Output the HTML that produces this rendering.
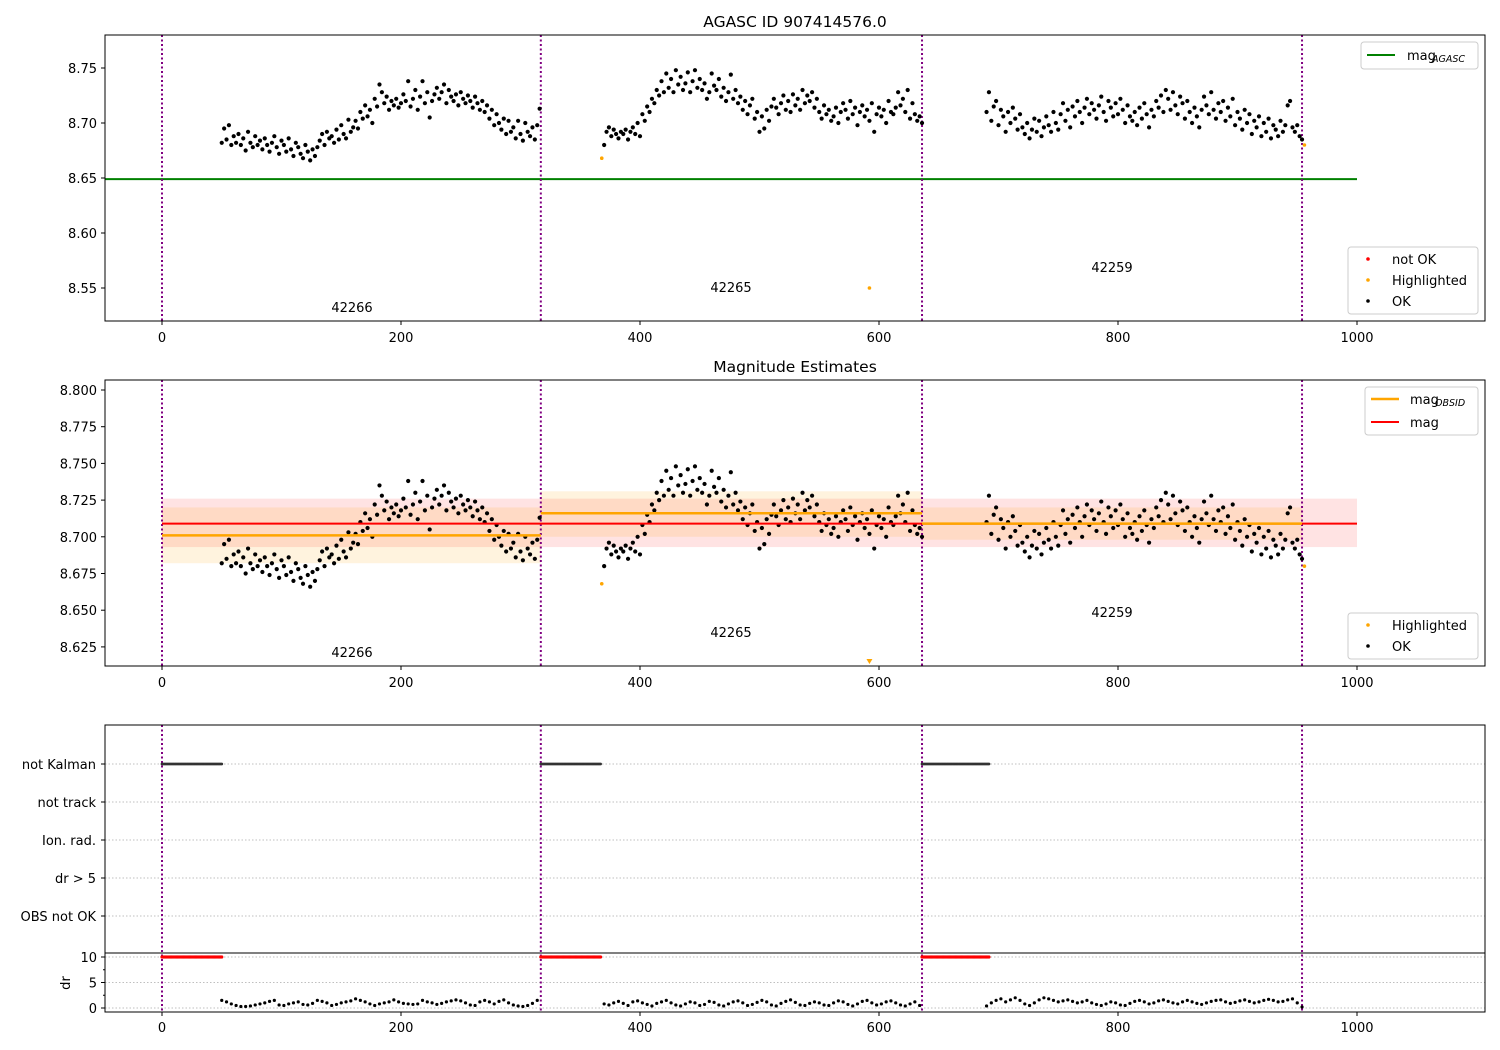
<!DOCTYPE html>
<html><head><meta charset="utf-8"><style>
html,body{margin:0;padding:0;background:#fff;}
svg{display:block;font-family:"DejaVu Sans","Liberation Sans",sans-serif;}
</style></head><body>
<svg id="chart" width="1500" height="1050" viewBox="0 0 1500 1050" xmlns="http://www.w3.org/2000/svg">
</svg>
<script>
// ---------- data ----------
const obsids = ["42266", "42265", "42259"];
const obsStarts = [0, 317, 636];
const obsEnds = [317, 636, 954];
const seg1Start = 50, seg2Start = 370, seg3Start = 690;
// magnitude offsets (thousandths of mag relative to 8.700), one per 2 index units
const seg1Mag = [-18,-5,-15,-2,-20,-12,
 -18,-10,-20,-14,-25,-8,-18,-22,-12,-20,-16,-24,-14,-20,-26,-18,-12,-22,-28,-16,
 -20,-26,-14,-24,-30,-18,-22,-28,-32,-20,-26,-34,-24,-30,-22,
 -16,-10,-20,-8,-14,-12,-18,-6,-15,-2,-10,-14,3,-8,-4,
 2,-5,10,4,16,6,12,0,22,15,
 35,28,18,24,12,20,16,22,14,18,
 26,20,38,15,22,30,12,24,38,18,28,5,20,26,32,
 22,28,35,18,30,24,20,26,16,28,22,18,25,20,14,
 24,18,12,20,10,16,4,12,-2,8,0,-6,4,-10,2,
 -8,-4,-14,2,-10,-16,0,-8,-12,-4,-15,-2,13];
const seg2Mag = [-20,-8,-4,-12,-6,-10,-14,-8,-10,-6,-15,-8,-4,-10,0,-12,
 8,2,15,10,22,18,30,25,38,28,
 45,32,40,28,48,35,42,30,36,46,28,38,48,32,40,
 30,36,22,28,45,34,30,40,24,32,20,28,44,22,30,
 18,24,12,20,8,16,22,4,10,-8,6,-5,12,2,15,
 22,14,8,18,25,12,20,10,26,16,22,12,30,18,25,
 20,28,14,22,10,4,16,8,12,2,6,14,0,10,18,
 12,4,20,8,14,-2,10,16,6,12,2,18,-8,8,14,
 6,12,0,20,10,8,14,28,16,22,10,30,4,18,8,2,6,0];
const seg3Mag = [10,28,2,15,20,-2,12,6,-8,10,0,14,4,-6,8,-4,
 -10,0,-14,-6,4,-8,2,-12,-4,6,-2,-8,10,0,-6,
 8,18,2,12,-4,15,6,20,10,0,14,22,8,18,12,
 4,16,24,10,2,20,14,6,18,8,22,12,0,16,6,
 2,10,-2,14,4,18,8,-4,12,6,20,14,25,10,30,
 22,12,28,16,8,24,18,4,20,10,0,14,6,-4,12,
 24,16,8,28,12,4,18,10,20,2,14,6,22,-2,10,
 4,-6,12,0,8,-10,2,-4,6,-12,0,-8,4,-14,-2,
 -6,-12,2,-8,-2,16,20,-4,-8,-2,-12,-15];
const highX = [368, 592, 956];
const highMag = [8.668, 8.550, 8.680];
const magAgasc = 8.649;
const magMean = 8.709, magBandLo = 8.693, magBandHi = 8.726;
const obsMag = [8.701, 8.716, 8.709];
const obsLo = [8.682, 8.700, 8.698];
const obsHi = [8.720, 8.731, 8.720];
// dr values, one per 4 index units
const seg1Dr = [1.5,1.2,0.8,0.5,0.3,0.3,0.4,0.6,0.8,1.0,1.3,1.5,0.6,0.5,0.8,1.0,1.2,0.7,0.6,0.9,1.5,1.3,1.0,0.5,0.7,1.0,1.2,1.4,1.8,1.5,1.2,0.8,0.5,0.8,1.0,1.2,1.6,1.2,0.9,0.8,0.7,0.8,1.5,1.2,1.0,0.7,0.9,1.2,1.4,1.6,1.4,1.0,0.6,0.5,1.2,1.5,1.2,0.8,1.3,1.6,1.0,0.6,0.4,0.3,0.5,0.9,1.5];
const seg2Dr = [0.8,0.6,1.0,1.3,0.9,0.5,1.2,1.4,1.0,0.7,0.4,0.9,1.2,1.5,1.0,0.6,0.4,0.8,1.2,1.0,0.5,0.7,1.3,1.1,0.6,0.4,0.8,1.2,1.4,1.0,0.5,0.7,1.1,1.5,1.2,0.6,0.4,0.9,1.3,1.6,1.1,0.6,0.5,0.9,1.2,1.0,0.6,0.5,1.0,1.4,1.2,0.7,0.4,0.8,1.3,1.5,1.0,0.6,0.8,1.2,1.4,1.0,0.6,0.4,0.8,1.2,0.5];
const seg3Dr = [0.4,1.0,1.5,1.8,1.2,1.6,2.0,1.5,0.8,0.5,1.0,1.6,2.0,1.8,1.5,1.2,1.4,1.6,1.3,1.0,1.2,1.5,1.0,0.7,0.5,0.8,1.2,1.0,0.6,0.5,0.9,1.3,1.5,1.2,0.8,1.0,1.4,1.6,1.3,1.0,0.8,1.2,1.5,1.2,0.9,0.7,1.0,1.3,1.5,1.6,1.2,0.9,1.1,1.4,1.6,1.3,1.0,1.2,1.5,1.7,1.5,1.2,1.3,1.6,1.8,1.0,0.2];
const flagLabels = ["not Kalman","not track","Ion. rad.","dr > 5","OBS not OK"];
const xTicks = [0,200,400,600,800,1000];
const topYTicks = [8.55,8.60,8.65,8.70,8.75];
const midYTicks = [8.625,8.650,8.675,8.700,8.725,8.750,8.775,8.800];
const drTicks = [0,5,10];

// ---------- scales ----------
const L = 105, R = 1485;
const X = v => 162 + v * 1.195;
const yTop = v => 68 + (8.75 - v) * 1100;
const yMid = v => 536.8 + (8.70 - v) * 1468;
const yDr = v => 1008 - v * 5.1;
const flagY = i => 764 + i * 38;

const svg = document.getElementById('chart');
const NS = 'http://www.w3.org/2000/svg';
function el(tag, attrs, parent) {
  const e = document.createElementNS(NS, tag);
  for (const k in attrs) e.setAttribute(k, attrs[k]);
  (parent || svg).appendChild(e);
  return e;
}
function txt(s, attrs, parent) { const t = el('text', attrs, parent); t.textContent = s; return t; }

function allPoints(segStarts, segs, step) {
  const out = [];
  segs.forEach((arr, s) => arr.forEach((v, i) => out.push([segStarts[s] + i * step, v])));
  return out;
}
const magPts = allPoints([seg1Start, seg2Start, seg3Start], [seg1Mag, seg2Mag, seg3Mag], 2);
const drPts = allPoints([seg1Start, seg2Start, seg3Start], [seg1Dr, seg2Dr, seg3Dr], 4);

function frame(top, bottom, name) {
  const r = el('rect', {x: L, y: top, width: R - L, height: bottom - top, fill: 'none', stroke: '#000', 'stroke-width': 1});
  
  
}
function xAxis(bottom, ty, name) {
  const g = el('g', {});
  
  
  xTicks.forEach(t => {
    el('line', {x1: X(t), x2: X(t), y1: bottom, y2: bottom + 4, stroke: '#000'}, g);
    txt(String(t), {x: X(t), y: ty, 'font-size': 13, 'text-anchor': 'middle'}, g);
  });
}
function yAxis(ticks, f, fmt, name) {
  const g = el('g', {});
  
  
  ticks.forEach(t => {
    el('line', {x1: L - 4, x2: L, y1: f(t), y2: f(t), stroke: '#000'}, g);
    txt(fmt(t), {x: L - 8, y: f(t) + 5, 'font-size': 13, 'text-anchor': 'end'}, g);
  });
}
function vlines(top, bottom) {
  obsStarts.concat([obsEnds[2]]).forEach(v => {
    const l = el('line', {x1: X(v), x2: X(v), y1: top, y2: bottom, stroke: 'purple', 'stroke-width': 2, 'stroke-dasharray': '2,2.5'});
    
    
  });
}
function dots(pts, fx, fy, color, r, name) {
  const g = el('g', {});
  
  
  pts.forEach(p => el('circle', {cx: fx(p[0]), cy: fy(p[1]), r: r, fill: color}, g));
}
function legendBox(x, y, w, h, name) {
  const r = el('rect', {x: x, y: y, width: w, height: h, rx: 3, fill: '#fff', 'fill-opacity': 0.8, stroke: '#ccc'});
  
  
}

// ---------- top panel ----------
txt('AGASC ID 907414576.0', {x: 795, y: 27, 'font-size': 15.5, 'text-anchor': 'middle'});
const gl = el('line', {x1: L, x2: X(1000), y1: yTop(magAgasc), y2: yTop(magAgasc), stroke: 'green', 'stroke-width': 2});


vlines(35, 321);
dots(magPts, X, v => yTop(8.7 + v / 1000), '#000', 2.1, 'ok-points-top');
dots(highX.map((x, i) => [x, highMag[i]]), X, yTop, 'orange', 1.8, 'highlighted-points-top');
[[352, 312], [731, 292], [1112, 272]].forEach((p, i) => {
  const t = txt(obsids[i], {x: p[0], y: p[1], 'font-size': 13, 'text-anchor': 'middle'});
  
  
});
frame(35, 321, 'top-axes');
xAxis(321, 342, 'top-x-axis');
yAxis(topYTicks, yTop, t => t.toFixed(2), 'top-y-axis');
legendBox(1361, 42, 117, 27, 'legend-agasc');
el('line', {x1: 1367, x2: 1395, y1: 55, y2: 55, stroke: 'green', 'stroke-width': 2});
txt('mag', {x: 1407, y: 60, 'font-size': 13});
txt('AGASC', {x: 1432, y: 62, 'font-size': 9.5, 'font-style': 'italic'});
legendBox(1348, 247, 130, 67, 'legend-status-top');
[['not OK', 'red', 259], ['Highlighted', 'orange', 280], ['OK', '#000', 301]].forEach(d => {
  el('circle', {cx: 1368, cy: d[2], r: 1.8, fill: d[1]});
  txt(d[0], {x: 1392, y: d[2] + 5, 'font-size': 13});
});

// ---------- middle panel ----------
txt('Magnitude Estimates', {x: 795, y: 372, 'font-size': 15.5, 'text-anchor': 'middle'});
const band = el('rect', {x: X(0), y: yMid(magBandHi), width: X(1000) - X(0), height: yMid(magBandLo) - yMid(magBandHi), fill: 'red', 'fill-opacity': 0.11});


obsMag.forEach((m, i) => {
  const b = el('rect', {x: X(obsStarts[i]), y: yMid(obsHi[i]), width: X(obsEnds[i]) - X(obsStarts[i]), height: yMid(obsLo[i]) - yMid(obsHi[i]), fill: 'orange', 'fill-opacity': 0.13});
  
  
});
vlines(380, 666);
dots(magPts, X, v => yMid(8.7 + v / 1000), '#000', 2.1, 'ok-points-mid');
const rl = el('line', {x1: X(0), x2: X(1000), y1: yMid(magMean), y2: yMid(magMean), stroke: 'red', 'stroke-width': 2});


obsMag.forEach((m, i) => {
  const l = el('line', {x1: X(obsStarts[i]), x2: X(obsEnds[i]), y1: yMid(m), y2: yMid(m), stroke: 'orange', 'stroke-width': 2.5});
  
  
});
const yMinMid = 8.614;
highX.forEach((x, i) => {
  const m = highMag[i];
  if (m < yMinMid) {
    const cx = X(x), cy = yMid(yMinMid) - 1;
    const tri = el('polygon', {points: `${cx-3},${cy-3} ${cx+3},${cy-3} ${cx},${cy+2}`, fill: 'orange'});
    
    
  } else {
    const c = el('circle', {cx: X(x), cy: yMid(m), r: 1.8, fill: 'orange'});
    
    
  }
});
[[352, 657], [731, 637], [1112, 617]].forEach((p, i) => {
  const t = txt(obsids[i], {x: p[0], y: p[1], 'font-size': 13, 'text-anchor': 'middle'});
  
  
});
frame(380, 666, 'middle-axes');
xAxis(666, 687, 'middle-x-axis');
yAxis(midYTicks, yMid, t => t.toFixed(3), 'middle-y-axis');
legendBox(1365, 387, 113, 48, 'legend-mag');
el('line', {x1: 1371, x2: 1399, y1: 399, y2: 399, stroke: 'orange', 'stroke-width': 2.5});
txt('mag', {x: 1410, y: 404, 'font-size': 13});
txt('OBSID', {x: 1435, y: 406, 'font-size': 9.5, 'font-style': 'italic'});
el('line', {x1: 1371, x2: 1399, y1: 422, y2: 422, stroke: 'red', 'stroke-width': 2});
txt('mag', {x: 1410, y: 427, 'font-size': 13});
legendBox(1348, 613, 130, 46, 'legend-status-mid');
[['Highlighted', 'orange', 625], ['OK', '#000', 646]].forEach(d => {
  el('circle', {cx: 1368, cy: d[2], r: 1.8, fill: d[1]});
  txt(d[0], {x: 1392, y: d[2] + 5, 'font-size': 13});
});

// ---------- flags panel ----------
flagLabels.forEach((s, i) => {
  el('line', {x1: L, x2: R, y1: flagY(i), y2: flagY(i), stroke: '#aaa', 'stroke-width': 0.8, 'stroke-dasharray': '1.5,2'});
  el('line', {x1: L - 4, x2: L, y1: flagY(i), y2: flagY(i), stroke: '#000'});
  const t = txt(s, {x: L - 9, y: flagY(i) + 5, 'font-size': 13, 'text-anchor': 'end'});
  
  
});
drTicks.forEach(t => {
  el('line', {x1: L, x2: R, y1: yDr(t), y2: yDr(t), stroke: '#aaa', 'stroke-width': 0.8, 'stroke-dasharray': '1.5,2'});
});
vlines(725, 1012);
const flagPts = [], redPts = [];
obsStarts.forEach((s, i) => {
  const len = [50, 50, 56][i];
  for (let k = 0; k <= len; k++) { flagPts.push([s + k, 0]); redPts.push([s + k, 10]); }
});
dots(flagPts, X, () => flagY(0), '#333', 1.4, 'not-kalman-flags');
dots(redPts, X, yDr, 'red', 1.6, 'dr-not-ok-points');
dots(drPts, X, yDr, '#000', 1.6, 'dr-points');
frame(725, 1012, 'flags-axes');
const sep = el('line', {x1: L, x2: R, y1: 953, y2: 953, stroke: '#000', 'stroke-width': 1});


xAxis(1012, 1032, 'bottom-x-axis');
yAxis(drTicks, yDr, t => String(t), 'dr-y-axis');
[2.5, 7.5].forEach(t => el('line', {x1: L - 2, x2: L, y1: yDr(t), y2: yDr(t), stroke: '#000'}));
const dl = txt('dr', {x: 70, y: 983, 'font-size': 13, 'text-anchor': 'middle', transform: 'rotate(-90 70 983)'});


</script>
</body></html>
